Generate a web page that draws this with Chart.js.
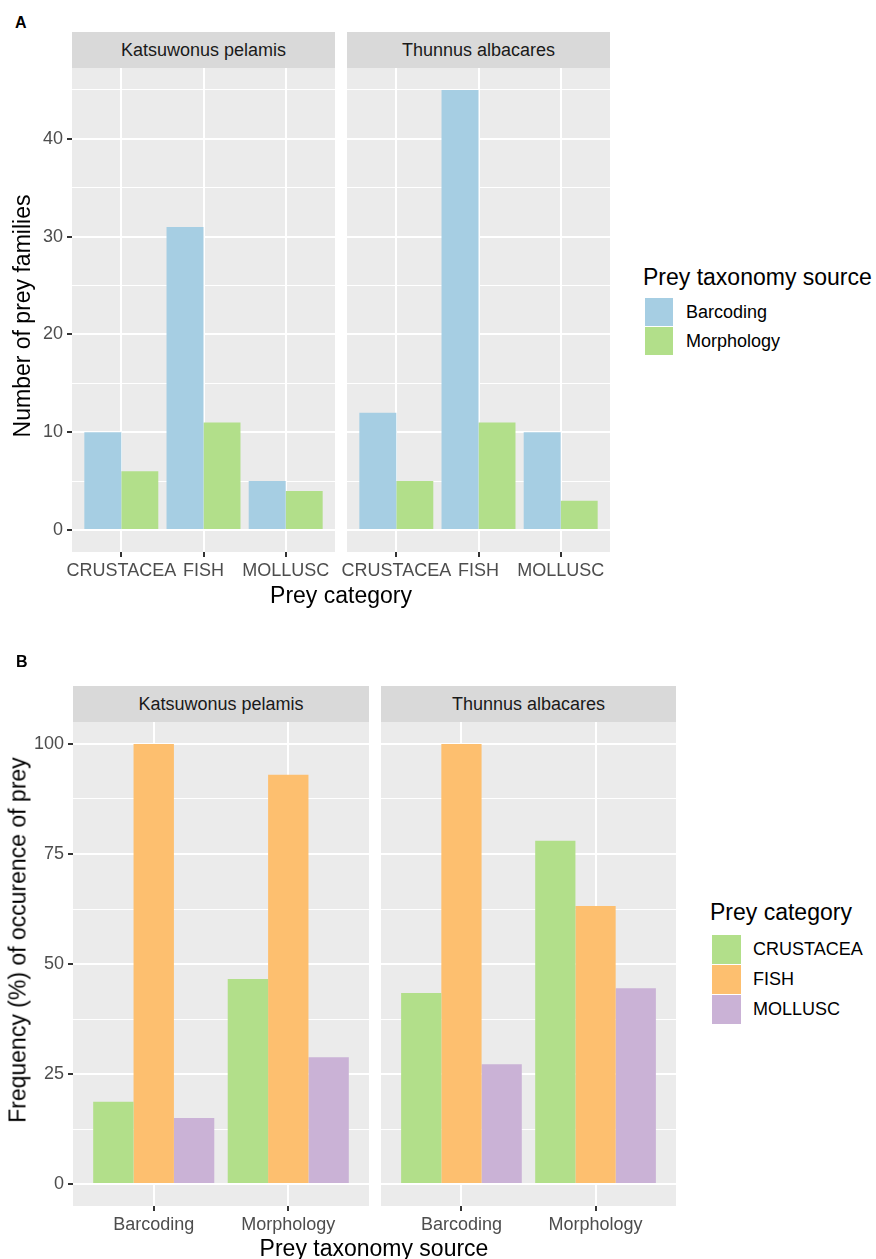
<!DOCTYPE html>
<html>
<head>
<meta charset="utf-8">
<script src="https://cdn.jsdelivr.net/npm/chart.js@4.4.1/dist/chart.umd.min.js"></script>
<style>
  body { margin: 0; background: #fff; font-family: "Liberation Sans", Arial, sans-serif; }
  #wrap { position: relative; width: 876px; height: 1259px; overflow: hidden; }
  canvas { position: absolute; }
  .strip { position: absolute; background: #D9D9D9; color: #1A1A1A; font-size: 18px; line-height: 37px; height: 36px; text-align: center; overflow: hidden; }
  .tag { position: absolute; font-size: 16px; font-weight: bold; line-height: 1; }
  .title { position: absolute; font-size: 23px; line-height: 1; white-space: nowrap; color: #000; }
  .ytitle { transform: translate(-50%, -50%) rotate(-90deg); }
  .xtitle { transform: translateX(-50%); }
  .key { position: absolute; }
  .klabel { position: absolute; font-size: 18px; color: #000; white-space: nowrap; }
</style>
</head>
<body>
<div id="wrap">
  <div class="tag" style="left:15px; top:15px;">A</div>
  <div class="strip" style="left:72px; top:32px; width:263px;">Katsuwonus pelamis</div>
  <div class="strip" style="left:347px; top:32px; width:263px;">Thunnus albacares</div>
  <canvas id="aLeft"></canvas>
  <canvas id="aRight"></canvas>
  <div class="title ytitle" style="left:22px; top:316px;">Number of prey families</div>
  <div class="title xtitle" style="left:341px; top:584px;">Prey category</div>
  <div id="legendA"></div>

  <div class="tag" style="left:16px; top:654px;">B</div>
  <div class="strip" style="left:73px; top:686px; width:296px;">Katsuwonus pelamis</div>
  <div class="strip" style="left:381px; top:686px; width:295px;">Thunnus albacares</div>
  <canvas id="bLeft"></canvas>
  <canvas id="bRight"></canvas>
  <div class="title ytitle" style="left:18px; top:940px;">Frequency (%) of occurence of prey</div>
  <div class="title xtitle" style="left:374px; top:1237px;">Prey taxonomy source</div>
  <div id="legendB"></div>
</div>
<script>
// categories and groups
var preyCategories = ['CRUSTACEA', 'FISH', 'MOLLUSC'];
var taxonomySources = ['Barcoding', 'Morphology'];

// panel A: number of prey families per prey category
var katsuwonusBarcoding = [10, 31, 5];
var katsuwonusMorphology = [6, 11, 4];
var thunnusBarcoding = [12, 45, 10];
var thunnusMorphology = [5, 11, 3];

// panel B: frequency (%) of occurence, per taxonomy source
var katsuwonusCrustacea = [18.7, 46.6];
var katsuwonusFish = [100, 93.0];
var katsuwonusMollusc = [15.0, 28.8];
var thunnusCrustacea = [43.4, 78.0];
var thunnusFish = [100, 63.2];
var thunnusMollusc = [27.2, 44.5];

// tick labels
var ticksA = [0, 10, 20, 30, 40];
var ticksB = [0, 25, 50, 75, 100];

var sourceColors = ['#A6CEE3', '#B2DF8A'];
var categoryColors = ['#B2DF8A', '#FDBF6F', '#CAB2D6'];

var tickFont = { family: '"Liberation Sans", Arial, sans-serif', size: 18 };

// grey panel behind the grid, like ggplot
var panelBg = {
    id: 'panelBg',
    beforeDraw: function(chart) {
        var a = chart.chartArea;
        var ctx = chart.ctx;
        ctx.save();
        ctx.fillStyle = '#EBEBEB';
        ctx.fillRect(a.left, a.top, a.right - a.left, a.bottom - a.top);
        ctx.restore();
    }
};

// major ticks plus the minor ones half way between them
function gridValues(majors, min, max) {
    var step = majors[1] - majors[0];
    var vals = [];
    for (var v = majors[0] - step; v <= majors[majors.length - 1] + step; v += step / 2) {
        if (v >= min && v <= max) vals.push(v);
    }
    return vals;
}

// largest value over all series of a panel (facets share the y scale)
function panelMax(list) {
    return Math.max.apply(null, list.map(function(s) { return Math.max.apply(null, s); }));
}

function makeFacet(id, box, xLabels, series, colors, names, majors, span, showY) {
    var canvas = document.getElementById(id);
    canvas.style.left = (box.left - box.yw) + 'px';
    canvas.style.top = box.top + 'px';
    canvas.width = box.width + box.yw;
    canvas.height = box.height + box.xh;

    var yMin = -0.05 * span;
    var yMax = span * 1.05;
    var grid = gridValues(majors, yMin, yMax);

    var datasets = series.map(function(vals, i) {
        return {
            label: names[i],
            data: vals.map(function(v, j) { return { x: j + 1, y: v }; }),
            backgroundColor: colors[i],
            borderWidth: 0
        };
    });

    function isMajor(ctx) {
        return !ctx.tick || majors.indexOf(ctx.tick.value) !== -1;
    }

    return new Chart(canvas, {
        type: 'bar',
        data: { datasets: datasets },
        options: {
            responsive: false,
            animation: false,
            layout: { padding: 0, autoPadding: false },
            events: [],
            plugins: { legend: { display: false }, tooltip: { enabled: false } },
            datasets: { bar: { categoryPercentage: 0.9, barPercentage: 1 } },
            scales: {
                x: {
                    type: 'linear',
                    bounds: 'data',
                    offset: false,
                    min: 0.4,
                    max: xLabels.length + 0.6,
                    afterBuildTicks: function(s) {
                        s.ticks = xLabels.map(function(l, i) { return { value: i + 1 }; });
                    },
                    afterFit: function(s) {
                        s.height = box.xh;
                        s.paddingLeft = 0;
                        s.paddingRight = 0;
                    },
                    border: { display: false },
                    grid: { offset: false, color: '#FFFFFF', lineWidth: 2, drawTicks: true, tickLength: 5, tickColor: '#333333', tickWidth: 2 },
                    ticks: {
                        autoSkip: false, maxRotation: 0, minRotation: 0, padding: 3,
                        color: '#4D4D4D', font: tickFont,
                        callback: function(v) { return xLabels[Math.round(v) - 1]; }
                    }
                },
                y: {
                    type: 'linear',
                    bounds: 'data',
                    min: yMin,
                    max: yMax,
                    afterBuildTicks: function(s) {
                        s.ticks = grid.map(function(v) { return { value: v }; });
                    },
                    afterFit: function(s) {
                        s.width = box.yw;
                        s.paddingTop = 0;
                        s.paddingBottom = 0;
                    },
                    border: { display: false },
                    grid: {
                        color: '#FFFFFF',
                        lineWidth: function(ctx) { return isMajor(ctx) ? 2 : 1; },
                        drawTicks: showY,
                        tickLength: 5,
                        tickWidth: 2,
                        tickColor: function(ctx) { return isMajor(ctx) ? '#333333' : 'rgba(0,0,0,0)'; }
                    },
                    ticks: {
                        display: showY, autoSkip: false, padding: 4,
                        color: '#4D4D4D', font: tickFont,
                        callback: function(v) { return majors.indexOf(v) !== -1 ? String(v) : ''; }
                    }
                }
            }
        },
        plugins: [panelBg]
    });
}

var spanA = panelMax([katsuwonusBarcoding, katsuwonusMorphology, thunnusBarcoding, thunnusMorphology]);
var spanB = panelMax([katsuwonusCrustacea, katsuwonusFish, katsuwonusMollusc, thunnusCrustacea, thunnusFish, thunnusMollusc]);

// panel A facets (x = prey category, bars = taxonomy source)
makeFacet('aLeft', { left: 72, top: 68, width: 263, height: 484, yw: 72, xh: 40 },
    preyCategories, [katsuwonusBarcoding, katsuwonusMorphology], sourceColors, taxonomySources, ticksA, spanA, true);
makeFacet('aRight', { left: 347, top: 68, width: 263, height: 484, yw: 40, xh: 40 },
    preyCategories, [thunnusBarcoding, thunnusMorphology], sourceColors, taxonomySources, ticksA, spanA, false);

// panel B facets (x = taxonomy source, bars = prey category)
makeFacet('bLeft', { left: 73, top: 722, width: 296, height: 484, yw: 73, xh: 40 },
    taxonomySources, [katsuwonusCrustacea, katsuwonusFish, katsuwonusMollusc], categoryColors, preyCategories, ticksB, spanB, true);
makeFacet('bRight', { left: 381, top: 722, width: 295, height: 484, yw: 40, xh: 40 },
    taxonomySources, [thunnusCrustacea, thunnusFish, thunnusMollusc], categoryColors, preyCategories, ticksB, spanB, false);

// legends built from the same names and colours
function makeLegend(id, title, names, colors, x, titleTop, keyTop, keySize, labelX) {
    var el = document.getElementById(id);
    var html = '<div class="title" style="left:' + x + 'px; top:' + titleTop + 'px;">' + title + '</div>';
    names.forEach(function(n, i) {
        var y = keyTop + i * (keySize + 1);
        html += '<div class="key" style="left:' + (x + 2) + 'px; top:' + y + 'px; width:' + keySize + 'px; height:' + keySize + 'px; background:' + colors[i] + ';"></div>';
        html += '<div class="klabel" style="left:' + labelX + 'px; top:' + y + 'px; line-height:' + keySize + 'px;">' + n + '</div>';
    });
    el.innerHTML = html;
}
makeLegend('legendA', 'Prey taxonomy source', taxonomySources, sourceColors, 643, 266, 298, 28, 686);
makeLegend('legendB', 'Prey category', preyCategories, categoryColors, 710, 901, 935, 29, 753);
</script>
</body>
</html>
